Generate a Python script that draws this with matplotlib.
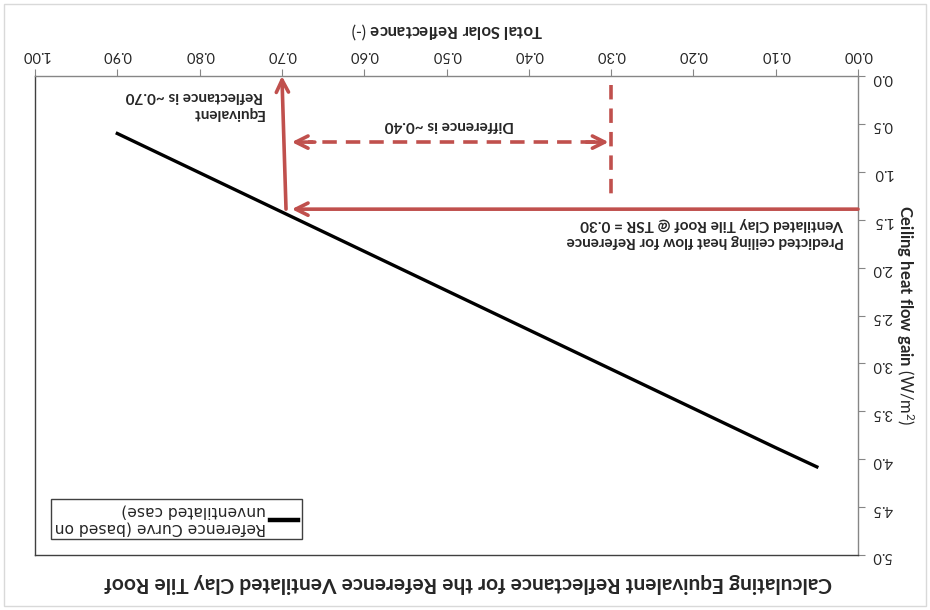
import matplotlib.pyplot as plt
from matplotlib.patches import Rectangle

plt.rcParams['font.family'] = ['Lato', 'DejaVu Sans']
plt.rcParams['mathtext.fontset'] = 'custom'
plt.rcParams['mathtext.rm'] = 'Lato'
plt.rcParams['mathtext.bf'] = 'Lato:bold'
plt.rcParams['mathtext.it'] = 'Lato:italic'

# reference curve (unventilated case)
tsr = [0.90, 0.80, 0.70, 0.60, 0.50, 0.40, 0.30, 0.20, 0.10, 0.05]
heat_gain = [0.60, 1.01, 1.42, 1.83, 2.24, 2.65, 3.06, 3.47, 3.88, 4.08]

x_ticks = [0.0, 0.1, 0.2, 0.3, 0.4, 0.5, 0.6, 0.7, 0.8, 0.9, 1.0]
y_ticks = [0.0, 0.5, 1.0, 1.5, 2.0, 2.5, 3.0, 3.5, 4.0, 4.5, 5.0]

# annotation values
ref_tsr = 0.30
equiv_tsr = 0.70
ref_gain = 1.39
diff_level = 0.69

red = '#C0504D'
txt = '#262626'

fig = plt.figure(figsize=(9.3, 6.1), dpi=100)
fig.patches.append(Rectangle((0.004, 0.006), 0.992, 0.988, transform=fig.transFigure,
                             fill=False, edgecolor='#D9D9D9', lw=1))
ax = fig.add_axes([35 / 930, 1 - 555 / 610, 823 / 930, 479 / 610])

ax.plot(tsr, heat_gain, color='black', lw=2.4, label='Reference Curve (based on\nunventilated case)')

ax.set_xlim(0, 1)
ax.set_ylim(0, 5)
ax.invert_xaxis()
ax.invert_yaxis()
ax.xaxis.tick_top()
ax.yaxis.tick_right()
ax.xaxis.set_label_position('top')
ax.yaxis.set_label_position('right')
ax.set_xticks(x_ticks)
ax.set_yticks(y_ticks)
ax.set_xticklabels([f'{v:.2f}' for v in x_ticks], rotation=180, fontsize=10.5, color=txt)
ax.set_yticklabels([f'{v:.1f}' for v in y_ticks], rotation=180, fontsize=10.5, color=txt)
ax.tick_params(axis='both', length=5, color='#868686', pad=5)
for s in ['top', 'right']:
    ax.spines[s].set_color('#868686')
for s in ['bottom', 'left']:
    ax.spines[s].set_color('#404040')
for s in ax.spines.values():
    s.set_linewidth(1.0)

ax.set_xlabel(r'$\mathbf{Total\ Solar\ Reflectance}$ (-)', rotation=180, fontsize=12,
              color=txt, labelpad=9)
ax.set_ylabel(r'$\mathbf{Ceiling\ heat\ flow\ gain}$ (W/m$^2$)', rotation=270, fontsize=12,
              color=txt, labelpad=17)

# horizontal solid arrow: reference heat flow -> reference curve
ax.annotate('', xy=(equiv_tsr - 0.012, ref_gain), xytext=(0.0, ref_gain),
            arrowprops=dict(arrowstyle='->', color=red, lw=2.6, mutation_scale=22,
                            shrinkA=0, shrinkB=0))
# vertical solid arrow up to the equivalent reflectance
ax.annotate('', xy=(equiv_tsr, 0.0), xytext=(equiv_tsr - 0.005, ref_gain),
            arrowprops=dict(arrowstyle='->', color=red, lw=2.6, mutation_scale=22,
                            shrinkA=0, shrinkB=0))
# dashed vertical at reference TSR
ax.plot([ref_tsr, ref_tsr], [0.09, 1.29], color=red, lw=2.6, ls=(0, (4, 2.5)))
# dashed double arrow for the difference
ax.plot([ref_tsr + 0.02, equiv_tsr - 0.032], [diff_level, diff_level], color=red, lw=2.6,
        ls=(0, (4, 2.5)))
ax.annotate('', xy=(ref_tsr + 0.003, diff_level), xytext=(ref_tsr + 0.03, diff_level),
            arrowprops=dict(arrowstyle='->', color=red, lw=2.6, mutation_scale=22,
                            shrinkA=0, shrinkB=0))
ax.annotate('', xy=(equiv_tsr - 0.012, diff_level), xytext=(equiv_tsr - 0.04, diff_level),
            arrowprops=dict(arrowstyle='->', color=red, lw=2.6, mutation_scale=22,
                            shrinkA=0, shrinkB=0))

ax.text(0.496, 0.51, 'Difference is ~0.40', rotation=180, ha='center', va='center',
        fontsize=11, fontweight='bold', color=txt)
ax.text(0.806, 0.30, 'Equivalent\nReflectance is ~0.70', rotation=180, ha='center',
        va='center', multialignment='left', fontsize=11, fontweight='bold', color=txt,
        linespacing=1.3)
ax.text(0.186, 1.634, 'Predicted ceiling heat flow for Reference\nVentilated Clay Tile Roof @ TSR = 0.30',
        rotation=180, ha='center', va='center', multialignment='left', fontsize=11,
        fontweight='bold', color=txt, linespacing=1.3)

leg = ax.legend(loc='lower left', bbox_to_anchor=(0.0, 0.0), bbox_transform=ax.transAxes,
                markerfirst=False, fancybox=False, edgecolor='#404040', framealpha=1,
                prop={'family': 'DejaVu Sans', 'size': 11.2}, handlelength=1.8,
                handletextpad=0.3, borderpad=0.25, borderaxespad=1.0)
leg.get_frame().set_linewidth(1.0)
for line in leg.get_lines():
    line.set_linewidth(3.2)
for t in leg.get_texts():
    t.set_rotation(180)
    t.set_color(txt)

fig.text(468 / 930, 1 - 583 / 610,
         'Calculating Equivalent Reflectance for the Reference Ventilated Clay Tile Roof',
         rotation=180, ha='center', va='center', fontsize=15, fontweight='bold', color=txt)

fig.savefig('out.png', dpi=100)
